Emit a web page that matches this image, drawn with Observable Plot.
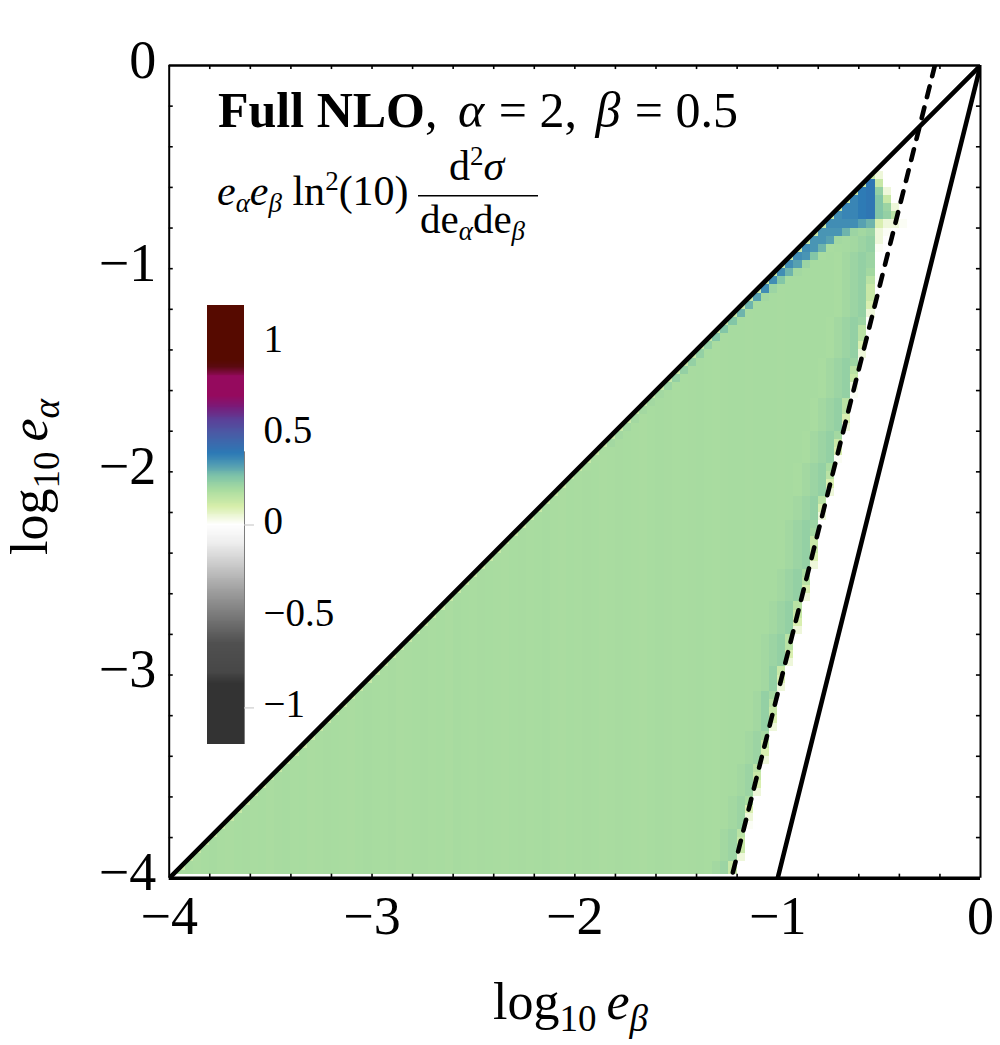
<!DOCTYPE html>
<html><head><meta charset="utf-8">
<script src="https://cdn.jsdelivr.net/npm/d3@7"></script>
<script src="https://cdn.jsdelivr.net/npm/@observablehq/plot@0.6"></script>
<style>
html,body{margin:0;padding:0;background:#fff}
#wrap{position:relative;width:1000px;height:1045px;overflow:hidden}
#wrap svg{display:block;position:absolute;left:0;top:0;overflow:visible;background:transparent}
</style></head><body><div id="wrap"></div>
<script>
// ---- colour bar ----
const colorStops  = [-1.2,-0.87,-0.81,-0.65,-0.54,-0.36,-0.23,-0.10,0,0.024,0.097,0.187,0.26,0.333,0.388,0.497,0.57,0.643,0.70,0.807,0.86,0.9,1.2];
const colorValues = ["#333333","#333333","#474747","#505050","#6e6e6e","#a0a0a0","#c8c8c8","#eeeeee","#ffffff","#f5fae8","#d6eeaa","#a9dca0","#80c4a8","#4a96b4","#2c79b5","#4a5aa5","#5b4098","#7a1a78","#950a5e","#950a5e","#5a0a10","#560a00","#560a00"];
const barTicks = [1,0.5,0,-0.5,-1];
const barTickLabels = ["1","0.5","0","−0.5","−1"];
const barMarkedTicks = [0,-1];

// ---- heat map: 0.04-wide bins ----
const levels = {a:.01,b:.04,c:.09,d:.125,e:.155,f:.187,g:.198,h:.21,i:.225,j:.255,k:.285,l:.315,m:.335,n:.35,o:.365,p:.385,q:.4};
// typical value of the body of the triangle, by column
const bulkByColumn = [.188,.187,.189,.186,.188,.190,.187,.186,.188,.189,.187,.188,.186,.189,.190,.187,.188,.186,.187,.189,
 .188,.187,.186,.188,.190,.188,.187,.189,.186,.187,.188,.189,.187,.188,.186,.190,.188,.187,.189,.188,
 .187,.186,.188,.189,.187,.188,.190,.187,.186,.188,.187,.189,.188,.186,.187,.189,.188,.187,.186,.188,
 .190,.189,.187,.188,.189,.190,.188,.187,.189,.190,.190,.189,.190,.191,.190,.189,.190,.191,.190,.191,
 .191,.190,.191,.192,.191,.192,.192,.192,.192,.192,.192];
// last coloured column of each row, bottom row first
const rowLastColumn = [69,69,70,70,70,70,71,71,71,71,72,72,72,72,73,73,73,73,74,74,74,74,74,75,75,75,76,76,76,76,
 77,77,77,77,78,78,78,78,79,79,79,79,79,79,80,80,80,81,81,81,81,82,82,82,82,83,83,83,83,84,
 84,84,84,84,85,85,85,85,85,86,86,86,86,86,86,86,86,87,87,88,90,89,89,88,88,87,87];
// cells at the diagonal end of each row, starting at the column on the diagonal
const rowHead = ["d","d","d","d","d","d","d","d","d","d","d","d","d","d","d","d","d","d","d","d",
 "d","d","d","d","d","d","d","d","d","d","d","d","d","d","d","d","d","d","d","d",
 "d","d","d","d","d","d","d","d","d","d","df","df","df","dg","dg","dg","dg","dg","dg","dg",
 "dh","di","di","di","di","di","dj","dj","dj","dk","dk","dlg","dnh","dnj","dnkg","dnlh","dnmjf","dnmkf","dmmlg","dmmmkhgh",
 "dnnnnlkcbba","dnoopqjie","doopqjhb","dopqjd","dpqib","dqd","db"];
// cells at the far end of each row, ending at the last coloured column
const rowTail = ["ghd","ghd","ghb","ghd","ghd","ghe","gha","ghb","ghc","ghf","ghb","ghc","ghd","ghe","ghb","ghc","ghd","ghg","gib","gic",
 "gid","gie","gig","gib","gic","gid","ghib","ghic","ghie","ghie","ghib","ghic","ghid","ghie","ghib","ghic","ghie","ghif","ghib","ghic",
 "ghid","ghid","ghig","ghih","ghib","ghic","ghie","fghib","fghic","fghie","fghif","fghia","fghic","fghid","fghig","fghib","fghic","fghie","fghie","fghia",
 "fghib","fghid","fghie","fghih","fghib","fghic","fghie","fghie","fghih","fghib","fghic","fghid","fghid","fghie","fghig","fghih","fghih","ghia","ghib","ba",
 "","","","","","",""];

// ---- theory lines ----
const diagonalX=[-4,0], diagonalY=[-4,0];
const boundaryX=[-1,0], boundaryY=[-4,0];
const dashedX=[-0.225,-1.228], dashedY=[0,-4];

// ---- axes ----
const majorTicks=[-4,-3,-2,-1,0];
const minorTicks=[-3.8,-3.6,-3.4,-3.2,-3,-2.8,-2.6,-2.4,-2.2,-2,-1.8,-1.6,-1.4,-1.2,-1,-0.8,-0.6,-0.4,-0.2];

const binWidth=.04, rowFloor=-3.98;
const cells=[];
rowLastColumn.forEach((last,r)=>{
  const head=rowHead[r], tail=rowTail[r];
  for(let c=r;c<=last;c++){
    let v;
    const fromEnd=last-c, tailIndex=tail.length-1-fromEnd;
    if(c-r<head.length) v=levels[head[c-r]];
    else if(tailIndex>=0) v=levels[tail[tailIndex]];
    else v=bulkByColumn[c];
    const left=-4+c*binWidth, bottom=-4+r*binWidth;
    const onDiag=c===r;
    cells.push({x1:onDiag?left+binWidth/2:left,x2:left+binWidth,
      y1:Math.max(bottom,rowFloor),y2:onDiag?bottom+binWidth/2:bottom+binWidth,v});
  }
});

const serif='"Liberation Serif","Times New Roman",serif';
const minus=d=>d===0?"0":"−"+Math.abs(d);
const tickLen=.02;
const tickStyle={stroke:"#000",strokeWidth:1.6};
const main=Plot.plot({
  width:1000,height:1045,marginLeft:168.7,marginRight:20,marginTop:65,marginBottom:167.3,
  x:{domain:[-4,0]},y:{domain:[-4,0]},
  color:{type:"linear",domain:colorStops,range:colorValues,clamp:true},
  style:{background:"transparent"},
  marks:[
    Plot.rect(cells,{x1:"x1",x2:"x2",y1:"y1",y2:"y2",fill:"v",shapeRendering:"crispEdges"}),
    Plot.ruleX(minorTicks,{x:d=>d,y1:-4,y2:-4+tickLen,...tickStyle}),
    Plot.ruleX(minorTicks,{x:d=>d,y1:-tickLen,y2:0,...tickStyle}),
    Plot.ruleY(minorTicks,{y:d=>d,x1:-4,x2:-4+tickLen,...tickStyle}),
    Plot.ruleY(minorTicks,{y:d=>d,x1:-tickLen,x2:0,...tickStyle}),
    Plot.line(diagonalX.map((x,i)=>[x,diagonalY[i]]),{x:d=>d[0],y:d=>d[1],stroke:"#000",strokeWidth:4.6,clip:true}),
    Plot.line(boundaryX.map((x,i)=>[x,boundaryY[i]]),{x:d=>d[0],y:d=>d[1],stroke:"#000",strokeWidth:4.6,clip:true}),
    Plot.line(dashedX.map((x,i)=>[x,dashedY[i]]),{x:d=>d[0],y:d=>d[1],stroke:"#000",strokeWidth:4.6,strokeDasharray:"11,10.6",clip:true}),
    Plot.ruleX([-4],{stroke:"#000",strokeWidth:2}),
    Plot.ruleX([0],{stroke:"#000",strokeWidth:2}),
    Plot.ruleY([0],{stroke:"#000",strokeWidth:2.6}),
    Plot.ruleY([-4],{stroke:"#000",strokeWidth:3.6}),
    Plot.axisX(majorTicks,{anchor:"bottom",tickSize:0,tickPadding:17,tickFormat:minus,fontSize:54,fontFamily:serif,label:null,fill:"#000",stroke:null}),
    Plot.axisY(majorTicks,{anchor:"left",tickSize:0,tickPadding:13,tickFormat:minus,fontSize:54,fontFamily:serif,label:null,fill:"#000",stroke:null,dy:-5})
  ]
});
document.getElementById("wrap").appendChild(main);

// colour-bar legend
const barSteps=d3.range(-1.2,1.2,.005);
const legend=Plot.plot({
  width:170,height:470,marginLeft:27,marginRight:106,marginTop:15,marginBottom:16,
  x:{domain:[0,1],axis:null},y:{domain:[-1.2,1.2],axis:null},
  color:{type:"linear",domain:colorStops,range:colorValues,clamp:true},
  style:{background:"transparent"},
  marks:[
    Plot.rect(barSteps,{x1:0,x2:1,y1:d=>d,y2:d=>d+.005,fill:d=>d,shapeRendering:"crispEdges"}),
    Plot.ruleX([1],{y1:-1.2,y2:.4,stroke:"#444",strokeWidth:1,strokeOpacity:.7}),
    Plot.ruleY(barMarkedTicks,{y:d=>d,x1:1,x2:1.27,stroke:"#ccc",strokeWidth:1.2}),
    Plot.text(barTicks.map((d,i)=>({d,t:barTickLabels[i]})),{x:()=>1,y:"d",text:"t",dx:19,dy:-3,textAnchor:"start",fontSize:39,fontFamily:serif,fill:"#000"})
  ]
});
legend.style.left="180px";legend.style.top="290px";
document.getElementById("wrap").appendChild(legend);

// formatted labels with sub/superscripts, as real text
const NS="http://www.w3.org/2000/svg";
function label(x,y,parts,size,rotate){
  const t=document.createElementNS(NS,"text");
  t.setAttribute("font-family",serif);t.setAttribute("font-size",size);t.setAttribute("fill","#000");
  t.setAttribute("text-anchor","start");
  t.setAttribute("transform",`translate(${x},${y})`+(rotate?` rotate(${rotate})`:""));
  parts.forEach(p=>{
    const s=document.createElementNS(NS,"tspan");
    s.textContent=p.t;
    if(p.i)s.setAttribute("font-style","italic");
    if(p.b)s.setAttribute("font-weight","bold");
    if(p.s)s.setAttribute("font-size",p.s);
    if(p.dy)s.setAttribute("dy",p.dy);
    if(p.dx)s.setAttribute("dx",p.dx);
    t.appendChild(s);
  });
  main.appendChild(t);
}
label(218,127,[{t:"Full NLO",b:1},{t:", "},{t:"α",i:1,dx:8},{t:" = 2, ",dx:2},{t:"β",i:1,dx:6},{t:" = 0.5",dx:2}],50);
label(217,205,[{t:"e",i:1},{t:"α",i:1,s:27,dy:7},{t:"e",i:1,dy:-7},{t:"β",i:1,s:27,dy:7},{t:" ln",dy:-7},{t:"2",s:27,dy:-15},{t:"(10)",dy:15}],42);
label(449,180,[{t:"d"},{t:"2",s:27,dy:-15},{t:"σ",i:1,dy:15}],42);
label(420,233,[{t:"de"},{t:"α",i:1,s:27,dy:7},{t:"de",dy:-7},{t:"β",i:1,s:27,dy:7}],41);
const frac=document.createElementNS(NS,"line");
frac.setAttribute("x1",418);frac.setAttribute("x2",538);frac.setAttribute("y1",195.7);frac.setAttribute("y2",195.7);
frac.setAttribute("stroke","#000");frac.setAttribute("stroke-width",1.6);main.appendChild(frac);
label(493,1019,[{t:"log"},{t:"10",s:37,dy:12},{t:"e",i:1,dy:-12,dx:10},{t:"β",i:1,s:37,dy:12}],52);
label(47,555,[{t:"log"},{t:"10",s:37,dy:12},{t:"e",i:1,dy:-12,dx:10},{t:"α",i:1,s:37,dy:12}],52,-90);
</script></body></html>
